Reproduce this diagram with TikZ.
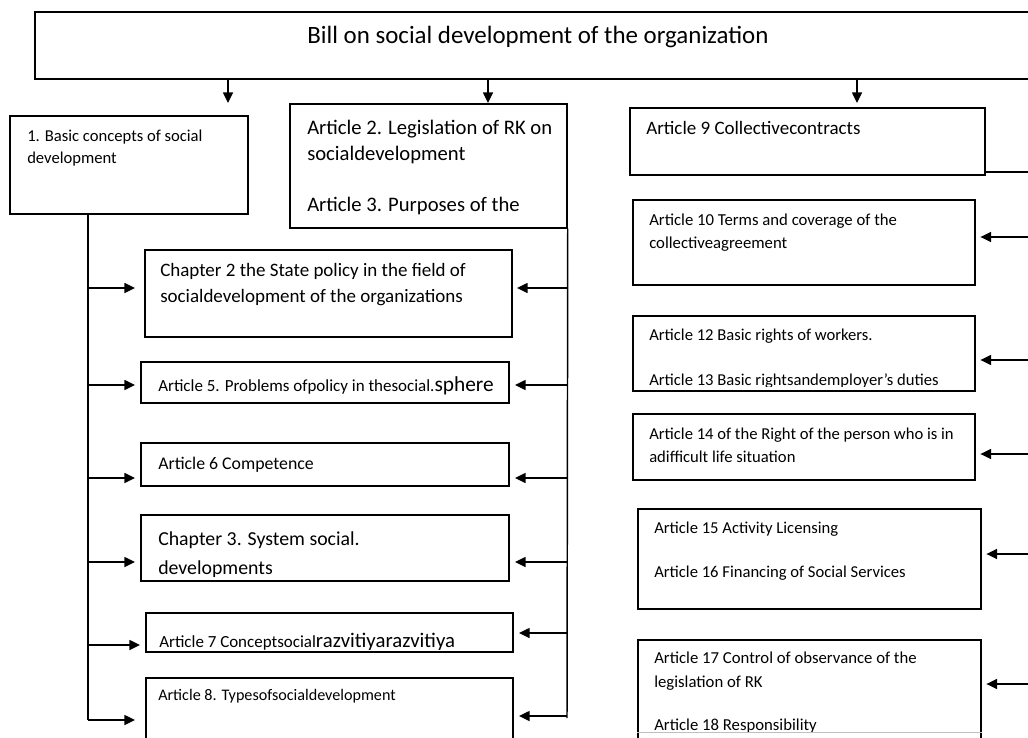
\documentclass[tikz,border=0pt]{standalone}
\usepackage{fontspec}
\setmainfont{Carlito}
\usetikzlibrary{arrows.meta,fit}

% font size given in pixels of the drawing grid (1 unit = 0.75pt)
\newcommand\pxfont[1]{\fontsize{\the\dimexpr #1pt*89/100\relax}{\the\dimexpr #1pt*11/10\relax}\selectfont}

\begin{document}
\begin{tikzpicture}[x=0.75pt,y=-0.75pt,
  frame/.style={draw, line width=1.1pt, inner sep=0pt},
  wire/.style={line width=1.1pt},
  arr/.style={line width=1.1pt, -{Triangle[length=8pt,width=7.5pt]}},
  txt/.style={anchor=base west, inner sep=0pt}]

\useasboundingbox (0,0) rectangle (1028,738);
\clip (0,0) rectangle (1028,738);

% ---------- boxes ----------
\node[frame, fit={(35,12) (1045,79)}] (top) {};
\node[frame, fit={(10,116) (248,214)}] (b1) {};
\node[frame, fit={(290,104) (567,228)}] (b2) {};
\node[frame, fit={(145,250) (512,337)}] (c2) {};
\node[frame, fit={(141,362) (509,403)}] (a5) {};
\node[frame, fit={(141,443) (509,486)}] (a6) {};
\node[frame, fit={(141,515) (509,581)}] (c3) {};
\node[frame, fit={(146,613) (513,652)}] (a7) {};
\node[frame, fit={(146,678) (513,760)}] (a8) {};

\node[frame, fit={(630,108) (985,175)}] (a9) {};
\node[frame, fit={(633,200) (975,285)}] (a10) {};
\node[frame, fit={(633,316) (975,391)}] (a12) {};
\node[frame, fit={(633,414) (975,480)}] (a14) {};
\node[frame, fit={(638,509) (981,609)}] (a15) {};
\node[frame, fit={(638,640) (981,760)}] (a17) {};
\draw[black!25, line width=0.6pt] (a17.west |- 0,732) -- (a17.east |- 0,732);

% ---------- texts (each clipped to its text area) ----------
\node[anchor=base, inner sep=0pt, font=\pxfont{21}] (ttl) at (538,44) {Bill on social development of the organization};

\begin{scope}\clip (b1.south west) rectangle (b1.north east);
  \node[txt, font=\pxfont{14}] (b1t1) at (27,142) {1. Basic concepts of social};
  \node[txt, font=\pxfont{14}] (b1t2) at (27,164) {development};
\end{scope}
\begin{scope}\clip (b2.south west) rectangle (b2.north east);
  \node[txt, font=\pxfont{17.4}] (b2t1) at (307,135) {Article 2. Legislation of RK on};
  \node[txt, font=\pxfont{17.4}] (b2t2) at (307,161) {socialdevelopment};
  \node[txt, font=\pxfont{17.4}] (b2t3) at (307,211) {Article 3. Purposes of the};
\end{scope}
\begin{scope}\clip (c2.south west) rectangle (c2.north east);
  \node[txt, font=\pxfont{16}] (c2t1) at (160,276) {Chapter 2 the State policy in the field of};
  \node[txt, font=\pxfont{16}] (c2t2) at (160,302) {socialdevelopment of the organizations};
\end{scope}
\begin{scope}\clip (a5.south west) rectangle (a5.north east);
  \node[txt] (a5t) at (158,391) {\pxfont{14.3}Article 5. Problems ofpolicy in thesocial.\pxfont{18}sphere};
\end{scope}
\begin{scope}\clip (a6.south west) rectangle (a6.north east);
  \node[txt, font=\pxfont{15}] (a6t) at (158,469) {Article 6 Competence};
\end{scope}
\begin{scope}\clip (c3.west |- 0,576) rectangle (c3.north east);
  \node[txt, font=\pxfont{16.7}] (c3t1) at (158,545) {Chapter 3. System social.};
  \node[txt, font=\pxfont{16.7}] (c3t2) at (158,574) {developments};
\end{scope}
\begin{scope}\clip (a7.west |- 0,649) rectangle (a7.north east);
  \node[txt] (a7t) at (159,647) {\pxfont{14.3}Article 7 Conceptsocial\pxfont{17.5}razvitiyarazvitiya};
\end{scope}
\begin{scope}\clip (a8.south west) rectangle (a8.north east);
  \node[txt, font=\pxfont{13.6}] (a8t) at (158,700) {Article 8. Typesofsocialdevelopment};
\end{scope}

\begin{scope}\clip (a9.south west) rectangle (a9.north east);
  \node[txt, font=\pxfont{16}] (a9t) at (646,135) {Article 9 Collectivecontracts};
\end{scope}
\begin{scope}\clip (a10.south west) rectangle (a10.north east);
  \node[txt, font=\pxfont{14.1}] (a10t1) at (649,225) {Article 10 Terms and coverage of the};
  \node[txt, font=\pxfont{14.1}] (a10t2) at (649,248) {collectiveagreement};
\end{scope}
\begin{scope}\clip (a12.west |- 0,386) rectangle (a12.north east);
  \node[txt, font=\pxfont{14}] (a12t1) at (649,340) {Article 12 Basic rights of workers.};
  \node[txt, font=\pxfont{14}] (a12t2) at (649,385) {Article 13 Basic rightsandemployer's duties};
\end{scope}
\begin{scope}\clip (a14.south west) rectangle (a14.north east);
  \node[txt, font=\pxfont{14}] (a14t1) at (649,439) {Article 14 of the Right of the person who is in};
  \node[txt, font=\pxfont{14}] (a14t2) at (649,462) {adifficult life situation};
\end{scope}
\begin{scope}\clip (a15.south west) rectangle (a15.north east);
  \node[txt, font=\pxfont{14}] (a15t1) at (654,533) {Article 15 Activity Licensing};
  \node[txt, font=\pxfont{14}] (a15t2) at (654,577) {Article 16 Financing of Social Services};
\end{scope}
\begin{scope}\clip (a17.west |- 0,731) rectangle (a17.north east);
  \node[txt, font=\pxfont{14.1}] (a17t1) at (654,663) {Article 17 Control of observance of the};
  \node[txt, font=\pxfont{14.1}] (a17t2) at (654,687) {legislation of RK};
  \node[txt, font=\pxfont{14.1}] (a17t3) at (654,730) {Article 18 Responsibility};
\end{scope}

% ---------- arrows from the title box ----------
\coordinate (t1) at (228,103);
\coordinate (t2) at (488,103);
\coordinate (t3) at (857,103);
\draw[arr] (top.south -| t1) -- (t1);
\draw[arr] (top.south -| t2) -- (t2);
\draw[arr] (top.south -| t3) -- (t3);

% ---------- left bus from box 1 ----------
\coordinate (lb) at (88,720);
\draw[wire] (b1.south -| lb) -- (lb);
\coordinate (l1) at (135,288);
\coordinate (l2) at (135,385);
\coordinate (l3) at (135,478);
\coordinate (l4) at (135,562);
\coordinate (l5) at (140,645);
\coordinate (l6) at (135,720);
\draw[arr] (lb |- l1) -- (l1);
\draw[arr] (lb |- l2) -- (l2);
\draw[arr] (lb |- l3) -- (l3);
\draw[arr] (lb |- l4) -- (l4);
\draw[arr] (lb |- l5) -- (l5);
\draw[arr] (lb) -- (l6);

% ---------- right bus from box 2 ----------
\coordinate (rb) at (567,718);
\draw[wire] (b2.south east) -- (rb);
\coordinate (r1) at (517,288);
\coordinate (r2) at (515,385);
\coordinate (r3) at (515,478);
\coordinate (r4) at (515,562);
\coordinate (r5) at (519,633);
\coordinate (r6) at (519,716);
\draw[arr] (rb |- r1) -- (r1);
\draw[arr] (rb |- r2) -- (r2);
\draw[arr] (rb |- r3) -- (r3);
\draw[arr] (rb |- r4) -- (r4);
\draw[arr] (rb |- r5) -- (r5);
\draw[arr] (rb |- r6) -- (r6);

% ---------- right column ----------
\coordinate (ra) at (1030,172);
\draw[wire] (a9.east |- ra) -- (ra);
\coordinate (p1) at (1030,237);
\coordinate (p2) at (1030,360);
\coordinate (p3) at (1030,454);
\coordinate (p4) at (1030,554);
\coordinate (p5) at (1030,684);
\draw[arr] (p1) -- ([xshift=3.5pt]a10.east |- p1);
\draw[arr] (p2) -- ([xshift=3.5pt]a12.east |- p2);
\draw[arr] (p3) -- ([xshift=3.5pt]a14.east |- p3);
\draw[arr] (p4) -- ([xshift=3.5pt]a15.east |- p4);
\draw[arr] (p5) -- ([xshift=3.5pt]a17.east |- p5);
\end{tikzpicture}
\end{document}
